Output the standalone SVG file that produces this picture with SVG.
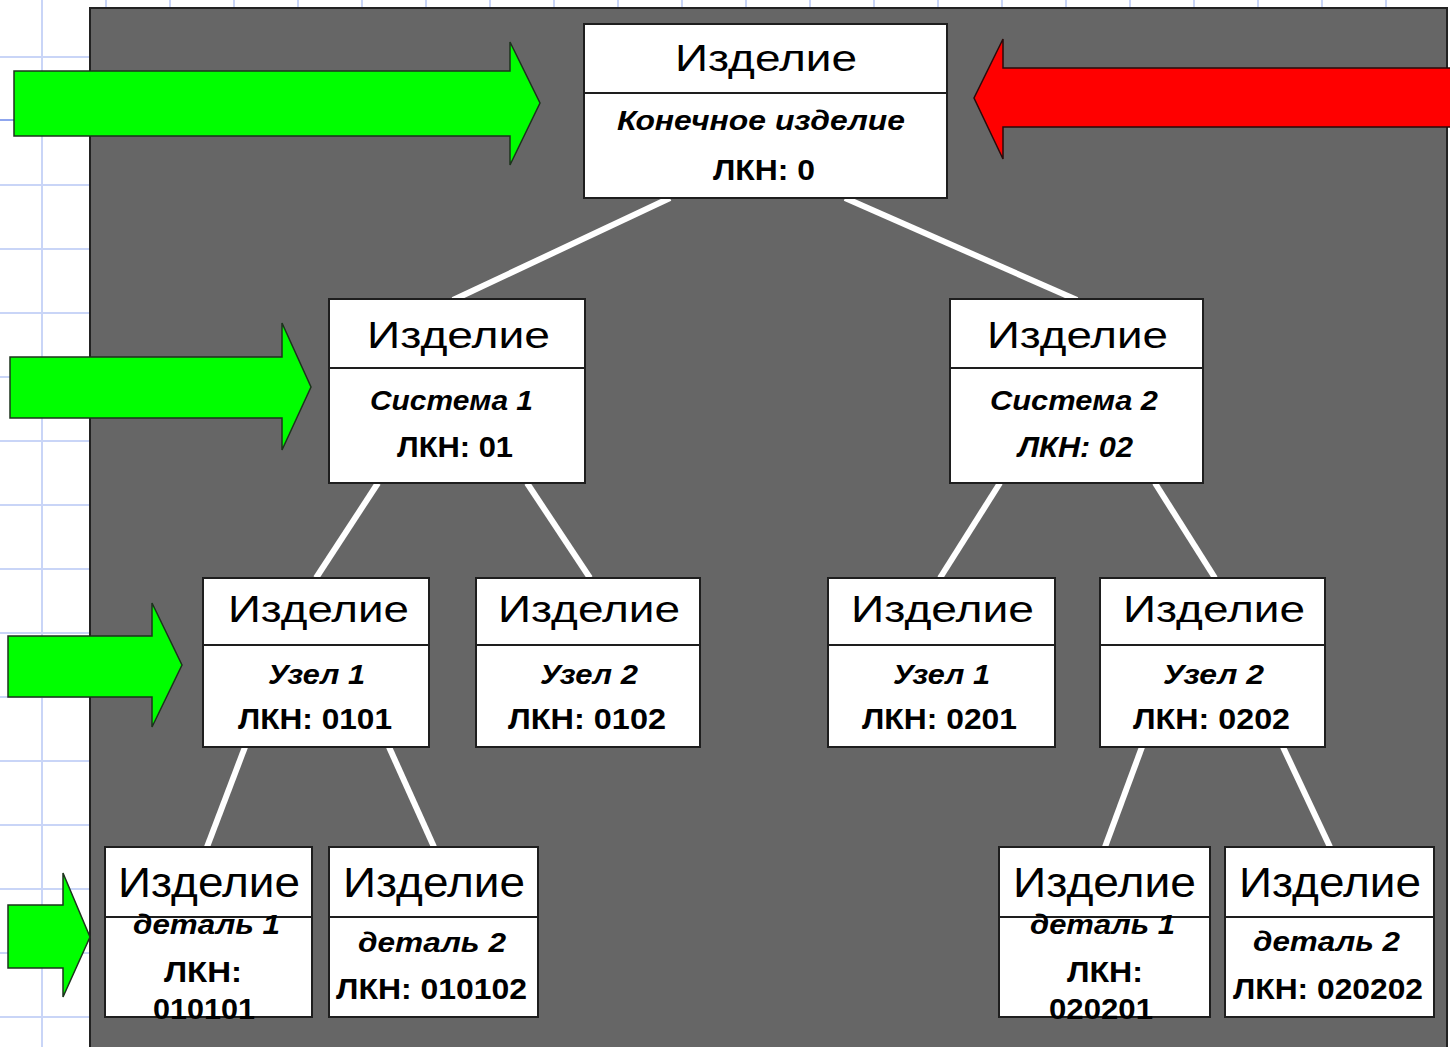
<svg xmlns="http://www.w3.org/2000/svg" width="1450" height="1047" viewBox="0 0 1450 1047">
<style>
.grid{stroke:#c9d5f7;stroke-width:2}
.box{fill:#fff;stroke:#1e1e1e;stroke-width:2}
.div{stroke:#1e1e1e;stroke-width:2}
.t{font-family:"Liberation Sans",Arial,sans-serif;fill:#000}
.h{font-size:37px}
.h4{font-size:43px}
.i{font-size:27px;font-weight:bold;font-style:italic}
.b{font-size:30px;font-weight:bold}
.bi{font-size:30px;font-weight:bold;font-style:italic}
.gr{fill:#00ff00;stroke:#1c331c;stroke-width:1.5}
.rd{fill:#ff0000;stroke:#2a0a0a;stroke-width:1.5}
.con line{stroke:#fff;stroke-width:6}
</style>
<rect x="0" y="0" width="1450" height="1047" fill="#fff"/>
<g id="grid">
<line class="grid" x1="42" y1="0" x2="42" y2="1047"/>
<line class="grid" x1="106" y1="0" x2="106" y2="10"/>
<line class="grid" x1="170" y1="0" x2="170" y2="10"/>
<line class="grid" x1="234" y1="0" x2="234" y2="10"/>
<line class="grid" x1="298" y1="0" x2="298" y2="10"/>
<line class="grid" x1="362" y1="0" x2="362" y2="10"/>
<line class="grid" x1="426" y1="0" x2="426" y2="10"/>
<line class="grid" x1="490" y1="0" x2="490" y2="10"/>
<line class="grid" x1="554" y1="0" x2="554" y2="10"/>
<line class="grid" x1="618" y1="0" x2="618" y2="10"/>
<line class="grid" x1="682" y1="0" x2="682" y2="10"/>
<line class="grid" x1="746" y1="0" x2="746" y2="10"/>
<line class="grid" x1="810" y1="0" x2="810" y2="10"/>
<line class="grid" x1="874" y1="0" x2="874" y2="10"/>
<line class="grid" x1="938" y1="0" x2="938" y2="10"/>
<line class="grid" x1="1002" y1="0" x2="1002" y2="10"/>
<line class="grid" x1="1066" y1="0" x2="1066" y2="10"/>
<line class="grid" x1="1130" y1="0" x2="1130" y2="10"/>
<line class="grid" x1="1194" y1="0" x2="1194" y2="10"/>
<line class="grid" x1="1258" y1="0" x2="1258" y2="10"/>
<line class="grid" x1="1322" y1="0" x2="1322" y2="10"/>
<line class="grid" x1="1386" y1="0" x2="1386" y2="10"/>
<line class="grid" x1="0" y1="57" x2="92" y2="57"/>
<line x1="0" y1="120" x2="92" y2="120" stroke="#8fa6ee" stroke-width="2"/>
<line class="grid" x1="0" y1="185" x2="92" y2="185"/>
<line class="grid" x1="0" y1="249" x2="92" y2="249"/>
<line class="grid" x1="0" y1="313" x2="92" y2="313"/>
<line class="grid" x1="0" y1="377" x2="92" y2="377"/>
<line class="grid" x1="0" y1="441" x2="92" y2="441"/>
<line class="grid" x1="0" y1="505" x2="92" y2="505"/>
<line class="grid" x1="0" y1="569" x2="92" y2="569"/>
<line class="grid" x1="0" y1="633" x2="92" y2="633"/>
<line class="grid" x1="0" y1="697" x2="92" y2="697"/>
<line class="grid" x1="0" y1="761" x2="92" y2="761"/>
<line class="grid" x1="0" y1="825" x2="92" y2="825"/>
<line class="grid" x1="0" y1="889" x2="92" y2="889"/>
<line class="grid" x1="0" y1="953" x2="92" y2="953"/>
<line class="grid" x1="0" y1="1017" x2="92" y2="1017"/>
</g>
<rect id="panel" x="90" y="8" width="1357" height="1060" fill="#666666" stroke="#222" stroke-width="2"/>
<g id="connectors" class="con">
<line x1="670" y1="198" x2="453" y2="300"/>
<line x1="845" y1="198" x2="1077" y2="300"/>
<line x1="378" y1="483" x2="316" y2="578"/>
<line x1="527" y1="483" x2="590" y2="578"/>
<line x1="1000" y1="483" x2="940" y2="578"/>
<line x1="1155" y1="483" x2="1215" y2="578"/>
<line x1="245" y1="747" x2="207" y2="847"/>
<line x1="389" y1="747" x2="434" y2="847"/>
<line x1="1142" y1="747" x2="1105" y2="847"/>
<line x1="1283" y1="747" x2="1330" y2="847"/>
</g>
<g id="arrows">
<polygon class="gr" points="14,71 510,71 510,42 540,103 510,165 510,136 14,136"/>
<polygon class="gr" points="10,357 282,357 282,323 311,387 282,450 282,418 10,418"/>
<polygon class="gr" points="8,636 152,636 152,603 182,665 152,727 152,697 8,697"/>
<polygon class="gr" points="8,905 63,905 63,873 90,937 63,997 63,968 8,968"/>
<polygon class="rd" points="1452,68 1003,68 1003,39 974,98 1003,159 1003,127 1452,127"/>
</g>
<g id="n0">
<rect class="box" x="584" y="24" width="363" height="174"/>
<line class="div" x1="584" y1="93" x2="947" y2="93"/>
<text class="t h" x="675" y="71" textLength="182" lengthAdjust="spacingAndGlyphs">Изделие</text>
<text class="t i" x="617" y="130" textLength="288" lengthAdjust="spacingAndGlyphs">Конечное изделие</text>
<text class="t b" x="713" y="180" textLength="102" lengthAdjust="spacingAndGlyphs">ЛКН: 0</text>
</g>
<g id="n1">
<rect class="box" x="329" y="299" width="256" height="184"/>
<line class="div" x1="329" y1="368" x2="585" y2="368"/>
<text class="t h" x="367" y="348" textLength="183" lengthAdjust="spacingAndGlyphs">Изделие</text>
<text class="t i" x="370" y="410" textLength="163" lengthAdjust="spacingAndGlyphs">Система 1</text>
<text class="t b" x="397" y="457" textLength="116" lengthAdjust="spacingAndGlyphs">ЛКН: 01</text>
</g>
<g id="n2">
<rect class="box" x="950" y="299" width="253" height="184"/>
<line class="div" x1="950" y1="368" x2="1203" y2="368"/>
<text class="t h" x="987" y="348" textLength="181" lengthAdjust="spacingAndGlyphs">Изделие</text>
<text class="t i" x="990" y="410" textLength="168" lengthAdjust="spacingAndGlyphs">Система 2</text>
<text class="t bi" x="1018" y="457" textLength="115" lengthAdjust="spacingAndGlyphs">ЛКН: 02</text>
</g>
<g id="n3">
<rect class="box" x="203" y="578" width="226" height="169"/>
<line class="div" x1="203" y1="645" x2="429" y2="645"/>
<text class="t h" x="228" y="622" textLength="181" lengthAdjust="spacingAndGlyphs">Изделие</text>
<text class="t i" x="268" y="684" textLength="97" lengthAdjust="spacingAndGlyphs">Узел 1</text>
<text class="t b" x="238" y="729" textLength="154" lengthAdjust="spacingAndGlyphs">ЛКН: 0101</text>
</g>
<g id="n4">
<rect class="box" x="476" y="578" width="224" height="169"/>
<line class="div" x1="476" y1="645" x2="700" y2="645"/>
<text class="t h" x="498" y="622" textLength="182" lengthAdjust="spacingAndGlyphs">Изделие</text>
<text class="t i" x="540" y="684" textLength="98" lengthAdjust="spacingAndGlyphs">Узел 2</text>
<text class="t b" x="508" y="729" textLength="158" lengthAdjust="spacingAndGlyphs">ЛКН: 0102</text>
</g>
<g id="n5">
<rect class="box" x="828" y="578" width="227" height="169"/>
<line class="div" x1="828" y1="645" x2="1055" y2="645"/>
<text class="t h" x="851" y="622" textLength="183" lengthAdjust="spacingAndGlyphs">Изделие</text>
<text class="t i" x="893" y="684" textLength="97" lengthAdjust="spacingAndGlyphs">Узел 1</text>
<text class="t b" x="862" y="729" textLength="155" lengthAdjust="spacingAndGlyphs">ЛКН: 0201</text>
</g>
<g id="n6">
<rect class="box" x="1100" y="578" width="225" height="169"/>
<line class="div" x1="1100" y1="645" x2="1325" y2="645"/>
<text class="t h" x="1123" y="622" textLength="182" lengthAdjust="spacingAndGlyphs">Изделие</text>
<text class="t i" x="1163" y="684" textLength="101" lengthAdjust="spacingAndGlyphs">Узел 2</text>
<text class="t b" x="1133" y="729" textLength="157" lengthAdjust="spacingAndGlyphs">ЛКН: 0202</text>
</g>
<g id="n7">
<rect class="box" x="105" y="847" width="207" height="170"/>
<line class="div" x1="105" y1="917" x2="312" y2="917"/>
<text class="t h4" x="118" y="897" textLength="182" lengthAdjust="spacingAndGlyphs">Изделие</text>
<text class="t i" x="133" y="934" textLength="147" lengthAdjust="spacingAndGlyphs">деталь 1</text>
<text class="t b" x="164" y="982" textLength="78" lengthAdjust="spacingAndGlyphs">ЛКН:</text>
<text class="t b" x="153" y="1019" textLength="102" lengthAdjust="spacingAndGlyphs">010101</text>
</g>
<g id="n8">
<rect class="box" x="329" y="847" width="209" height="170"/>
<line class="div" x1="329" y1="917" x2="538" y2="917"/>
<text class="t h4" x="343" y="897" textLength="182" lengthAdjust="spacingAndGlyphs">Изделие</text>
<text class="t i" x="358" y="952" textLength="148" lengthAdjust="spacingAndGlyphs">деталь 2</text>
<text class="t b" x="336" y="999" textLength="191" lengthAdjust="spacingAndGlyphs">ЛКН: 010102</text>
</g>
<g id="n9">
<rect class="box" x="999" y="847" width="211" height="170"/>
<line class="div" x1="999" y1="917" x2="1210" y2="917"/>
<text class="t h4" x="1013" y="897" textLength="183" lengthAdjust="spacingAndGlyphs">Изделие</text>
<text class="t i" x="1030" y="934" textLength="145" lengthAdjust="spacingAndGlyphs">деталь 1</text>
<text class="t b" x="1067" y="982" textLength="76" lengthAdjust="spacingAndGlyphs">ЛКН:</text>
<text class="t b" x="1049" y="1019" textLength="104" lengthAdjust="spacingAndGlyphs">020201</text>
</g>
<g id="n10">
<rect class="box" x="1225" y="847" width="209" height="170"/>
<line class="div" x1="1225" y1="917" x2="1434" y2="917"/>
<text class="t h4" x="1239" y="897" textLength="182" lengthAdjust="spacingAndGlyphs">Изделие</text>
<text class="t i" x="1253" y="951" textLength="147" lengthAdjust="spacingAndGlyphs">деталь 2</text>
<text class="t b" x="1233" y="999" textLength="190" lengthAdjust="spacingAndGlyphs">ЛКН: 020202</text>
</g>
</svg>
